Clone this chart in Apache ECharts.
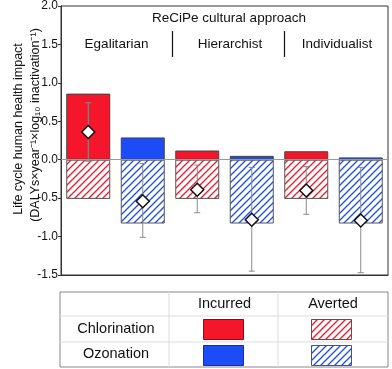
<!DOCTYPE html>
<html>
<head>
<meta charset="utf-8">
<script src="https://cdn.jsdelivr.net/npm/echarts@6/dist/echarts.min.js"></script>
<style>
  html, body { margin: 0; padding: 0; background: #fff; }
  #chart { width: 392px; height: 369px; }
</style>
</head>
<body>
<div id="chart"></div>
<script>
// bars: chlorination / ozonation for each cultural approach
var categories = ['Egalitarian Cl', 'Egalitarian O3', 'Hierarchist Cl', 'Hierarchist O3', 'Individualist Cl', 'Individualist O3'];
var incurred = [0.86, 0.29, 0.12, 0.05, 0.11, 0.03];
var averted = [-0.51, -0.83, -0.51, -0.83, -0.51, -0.83];
var net = [0.36, -0.54, -0.39, -0.78, -0.40, -0.79];
var errLow = [-0.02, -1.01, -0.69, -1.45, -0.71, -1.47];
var errHigh = [0.74, -0.05, -0.07, -0.10, -0.09, -0.10];
var groups = ['Egalitarian', 'Hierarchist', 'Individualist'];
var yTicks = [-1.5, 2.0, 0.5];  // min, max, step

var RED = '#f5162b';
var BLUE = '#1c4cf5';
var FONT = 'Arial, "Liberation Sans", sans-serif';

function hatch(color) {
    var s = 7;
    var c = document.createElement('canvas');
    c.width = s; c.height = s;
    var ctx = c.getContext('2d');
    ctx.fillStyle = '#fff';
    ctx.fillRect(0, 0, s, s);
    ctx.strokeStyle = color;
    ctx.lineWidth = 1.3;
    ctx.beginPath();
    ctx.moveTo(0, s); ctx.lineTo(s, 0);
    ctx.moveTo(-1, 1); ctx.lineTo(1, -1);
    ctx.moveTo(s - 1, s + 1); ctx.lineTo(s + 1, s - 1);
    ctx.stroke();
    return { image: c, repeat: 'repeat' };
}
var redHatch = hatch(RED);
var blueHatch = hatch(BLUE);

var myChart = echarts.init(document.getElementById('chart'), null, { renderer: 'canvas' });

var errData = categories.map(function (c, i) { return [i, errLow[i], errHigh[i]]; });

function txt(x, y, s, size, extra) {
    var o = { type: 'text', x: x, y: y, style: { text: s, font: size + 'px ' + FONT, fill: '#111', align: 'center', verticalAlign: 'middle' } };
    if (extra) o.rotation = extra;
    return o;
}

// legend table (graphic)
var L = { x0: 60, x1: 388, y0: 292, y1: 367, c1: 169, c2: 278, r1: 316, r2: 342 };
var legend = [
    { type: 'rect', shape: { x: L.x0, y: L.y0, width: L.x1 - L.x0, height: L.y1 - L.y0 }, style: { fill: 'none', stroke: '#888', lineWidth: 1 } },
    { type: 'line', shape: { x1: L.c1, y1: L.y0, x2: L.c1, y2: L.y1 }, style: { stroke: '#ddd', lineWidth: 1 } },
    { type: 'line', shape: { x1: L.c2, y1: L.y0, x2: L.c2, y2: L.y1 }, style: { stroke: '#ddd', lineWidth: 1 } },
    { type: 'line', shape: { x1: L.x0, y1: L.r1, x2: L.x1, y2: L.r1 }, style: { stroke: '#ddd', lineWidth: 1 } },
    { type: 'line', shape: { x1: L.x0, y1: L.r2, x2: L.x1, y2: L.r2 }, style: { stroke: '#ddd', lineWidth: 1 } },
    txt(224.5, 304, 'Incurred', 14.5),
    txt(333, 304, 'Averted', 14.5),
    txt(116, 329, 'Chlorination', 14.5),
    txt(116, 354, 'Ozonation', 14.5),
    { type: 'rect', shape: { x: 203.5, y: 319.5, width: 40, height: 20 }, style: { fill: RED, stroke: '#333', lineWidth: 1 } },
    { type: 'rect', shape: { x: 203.5, y: 345.5, width: 40, height: 20 }, style: { fill: BLUE, stroke: '#333', lineWidth: 1 } },
    { type: 'rect', shape: { x: 311.5, y: 319.5, width: 40, height: 20 }, style: { fill: redHatch, stroke: '#555', lineWidth: 1 } },
    { type: 'rect', shape: { x: 311.5, y: 345.5, width: 40, height: 20 }, style: { fill: blueHatch, stroke: '#555', lineWidth: 1 } }
];

// header + y title
var header = [
    txt(229, 18, 'ReCiPe cultural approach', 13.5),
    txt(116.5, 44, groups[0], 13.5),
    txt(230, 44, groups[1], 13.5),
    txt(337, 44, groups[2], 13.5),
    { type: 'line', shape: { x1: 172.5, y1: 31, x2: 172.5, y2: 57 }, style: { stroke: '#111', lineWidth: 1.2 } },
    { type: 'line', shape: { x1: 284.5, y1: 31, x2: 284.5, y2: 57 }, style: { stroke: '#111', lineWidth: 1.2 } },
    txt(18.5, 129, 'Life cycle human health impact', 12.5, Math.PI / 2),
    txt(35.5, 125, '(DALYs×year⁻¹×log₁₀ inactivation⁻¹)', 12.5, Math.PI / 2)
];

var option = {
    animation: false,
    grid: { left: 61, right: 4, top: 6, bottom: 94, show: true, borderColor: '#333', borderWidth: 1 },
    xAxis: {
        type: 'category',
        data: categories,
        axisLine: { onZero: false, lineStyle: { color: '#333' } },
        axisTick: { alignWithLabel: true, length: 3, lineStyle: { color: '#333' } },
        axisLabel: { show: false }
    },
    yAxis: {
        type: 'value',
        min: yTicks[0],
        max: yTicks[1],
        interval: yTicks[2],
        splitLine: { show: false },
        axisLine: { show: true, lineStyle: { color: '#333' } },
        axisTick: { show: true, length: 3, lineStyle: { color: '#333' } },
        axisLabel: { color: '#111', fontSize: 12, fontFamily: FONT, margin: 3, formatter: function (v) { return v.toFixed(1); } }
    },
    graphic: header.concat(legend),
    series: [
        {
            name: 'Incurred',
            type: 'bar',
            barWidth: 44,
            barGap: '-100%',
            data: incurred.map(function (v, i) {
                return { value: v, itemStyle: { color: i % 2 ? BLUE : RED } };
            }),
            itemStyle: { borderColor: '#444', borderWidth: 1 },
            markLine: {
                silent: true,
                symbol: 'none',
                label: { show: false },
                lineStyle: { color: '#999', type: 'solid', width: 1 },
                data: [{ yAxis: 0 }]
            }
        },
        {
            name: 'Averted',
            type: 'bar',
            barWidth: 44,
            data: averted.map(function (v, i) {
                return { value: v, itemStyle: { color: i % 2 ? blueHatch : redHatch } };
            }),
            itemStyle: { borderColor: '#555', borderWidth: 1 }
        },
        {
            name: 'Range',
            type: 'custom',
            z: 5,
            data: errData,
            renderItem: function (params, api) {
                var x = api.value(0);
                var lo = api.coord([x, api.value(1)]);
                var hi = api.coord([x, api.value(2)]);
                var w = 3;
                var st = { stroke: '#8a8a8a', lineWidth: 1 };
                return {
                    type: 'group',
                    children: [
                        { type: 'line', shape: { x1: lo[0], y1: lo[1], x2: hi[0], y2: hi[1] }, style: st },
                        { type: 'line', shape: { x1: lo[0] - w, y1: lo[1], x2: lo[0] + w, y2: lo[1] }, style: st },
                        { type: 'line', shape: { x1: hi[0] - w, y1: hi[1], x2: hi[0] + w, y2: hi[1] }, style: st }
                    ]
                };
            }
        },
        {
            name: 'Net',
            type: 'scatter',
            z: 6,
            symbol: 'diamond',
            symbolSize: [13, 13],
            data: net,
            itemStyle: { color: '#fff', borderColor: '#111', borderWidth: 1.5, opacity: 1 }
        }
    ]
};

myChart.setOption(option);
</script>
</body>
</html>
